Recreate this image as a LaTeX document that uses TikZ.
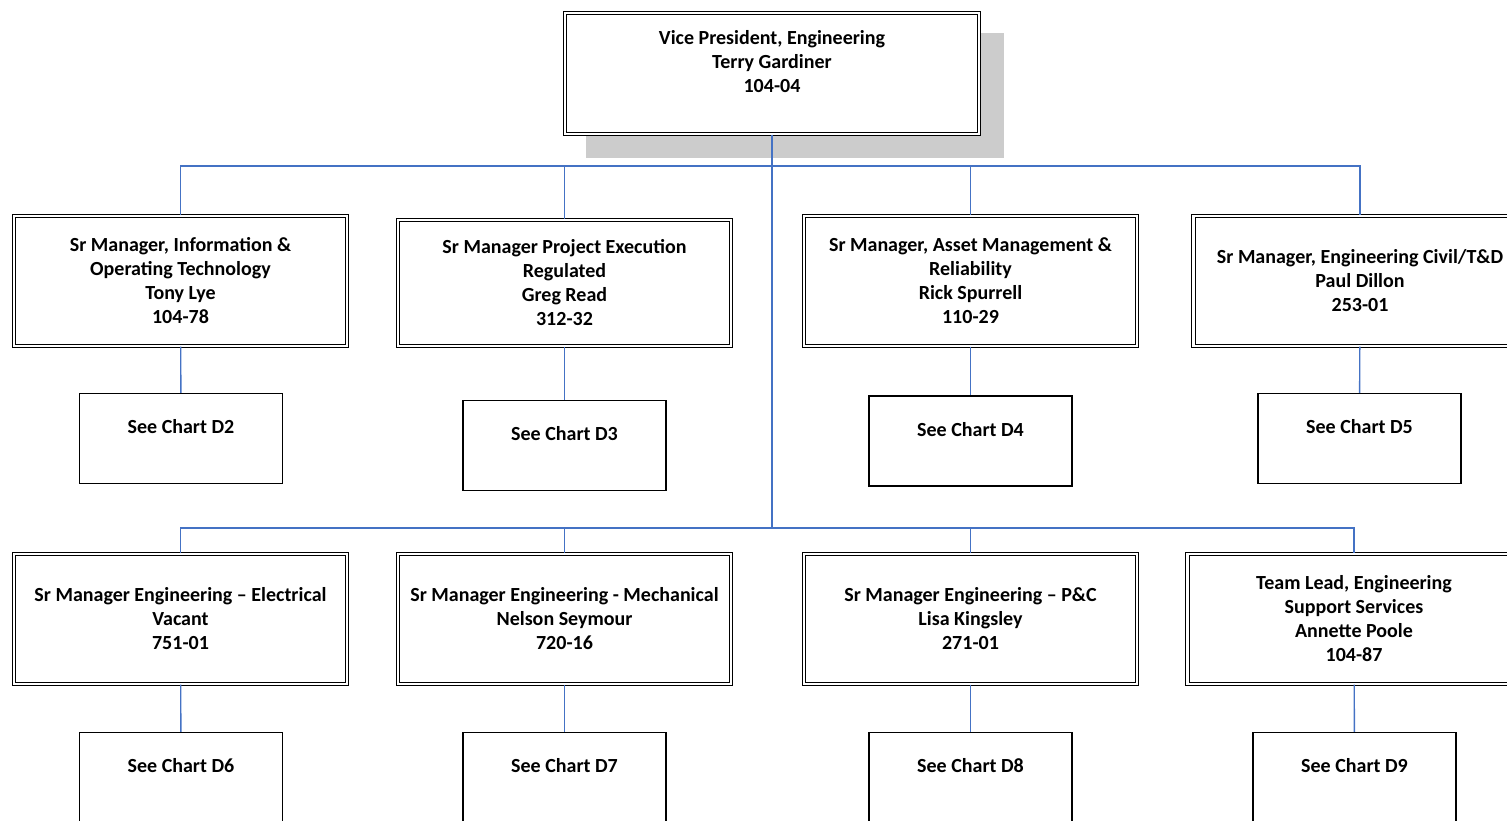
\documentclass[tikz,border=0pt]{standalone}
\usepackage{fontspec}
\setmainfont{Carlito}
\usetikzlibrary{shadows}
\definecolor{linkblue}{HTML}{4472C4}
\definecolor{shadowgray}{HTML}{CCCCCC}
\begin{document}
\begin{tikzpicture}[x=1pt, y=-1pt,
                    font=\fontsize{20}{24}\selectfont\bfseries,
                    mgr/.style={draw, fill=white, double, double distance=2.4pt, line width=1.2pt,
                                minimum width=333pt, minimum height=130pt, inner sep=0pt, align=center},
                    chart/.style={draw, line width=1.2pt, minimum width=203pt,
                                  minimum height=90pt, inner sep=0pt, align=center},
                    link/.style={draw=linkblue, line width=1.4pt}]

  \useasboundingbox (0,0) rectangle (1507,820);

  % top
  \node[mgr, minimum width=414pt, minimum height=121pt,
        drop shadow={shadow xshift=23pt, shadow yshift=-22pt, fill=shadowgray,
                     draw=shadowgray, line width=4pt, opacity=1}]
    (vp) at (772, 73.5) {Vice President, Engineering\\Terry Gardiner\\104-04\\~};

  % first row
  \node[mgr] (itot) at (180.5, 281) {Sr Manager, Information \&\\Operating Technology\\Tony Lye\\104-78};
  \node[mgr, minimum height=126pt] (projex) at (564.5, 283) {Sr Manager Project Execution\\Regulated\\Greg Read\\312-32};
  \node[mgr] (asset) at (970.5, 281) {Sr Manager, Asset Management \&\\Reliability\\Rick Spurrell\\110-29};
  \node[mgr] (civil) at (1360, 281) {Sr Manager, Engineering Civil/T\&D\\Paul Dillon\\253-01};

  \node[chart] (d2) at (181, 438.5) {See Chart D2\\~};
  \node[chart] (d3) at (564.5, 445.5) {See Chart D3\\~};
  \node[chart] (d4) at (970.5, 441) {See Chart D4\\~};
  \node[chart] (d5) at (1359.5, 438.5) {See Chart D5\\~};

  % second row
  \node[mgr] (elec) at (180.5, 619) {Sr Manager Engineering -- Electrical\\Vacant\\751-01};
  \node[mgr] (mech) at (564.5, 619) {Sr Manager Engineering - Mechanical\\Nelson Seymour\\720-16};
  \node[mgr] (pandc) at (970.5, 619) {Sr Manager Engineering -- P\&C\\Lisa Kingsley\\271-01};
  \node[mgr] (support) at (1354, 619) {Team Lead, Engineering\\Support Services\\Annette Poole\\104-87};

  \node[chart] (d6) at (181, 777.5) {See Chart D6\\~};
  \node[chart] (d7) at (564.5, 777.5) {See Chart D7\\~};
  \node[chart] (d8) at (970.5, 777.5) {See Chart D8\\~};
  \node[chart] (d9) at (1354.5, 777.5) {See Chart D9\\~};

  \coordinate (bus1) at (772, 166);
  \coordinate (bus2) at (772, 528);

  % connectors
  \draw[link] (vp.south) -- (bus2);
  \draw[link] (itot.north) |- (bus1) -| (civil.north);
  \draw[link] (bus1 -| projex) -- (projex.north);
  \draw[link] (bus1 -| asset) -- (asset.north);
  \draw[link] (elec.north) |- (bus2) -| (support.north);
  \draw[link] (bus2 -| mech) -- (mech.north);
  \draw[link] (bus2 -| pandc) -- (pandc.north);

  \draw[link] (itot) -- (d2);
  \draw[link] (projex) -- (d3);
  \draw[link] (asset) -- (d4);
  \draw[link] (civil) -- (d5);
  \draw[link] (elec) -- (d6);
  \draw[link] (mech) -- (d7);
  \draw[link] (pandc) -- (d8);
  \draw[link] (support) -- (d9);

\end{tikzpicture}
\end{document}
